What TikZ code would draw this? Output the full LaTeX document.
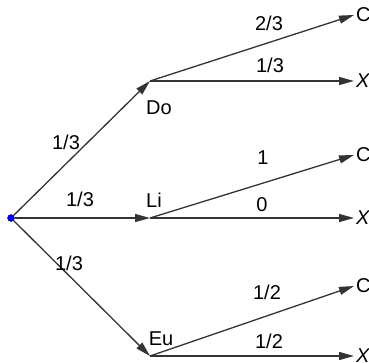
\documentclass[tikz,border=0pt]{standalone}
\usepackage{fontspec}
\setmainfont{Liberation Sans}
\usepackage{xcolor}
\usetikzlibrary{positioning, arrows.meta}
\definecolor{linegray}{RGB}{51,51,51}
\definecolor{dotblue}{RGB}{0,0,230}

\begin{document}
\begin{tikzpicture}[
    x=1pt, y=-1pt,
    every node/.style={font=\fontsize{20}{24}\selectfont},
    problabel/.style={
        inner sep=0pt,
        anchor=center
    },
    statelabel/.style={
        inner sep=0pt,
        anchor=center
    },
    leaflabel/.style={
        inner sep=2pt,
        anchor=west
    },
    rootdot/.style={
        circle,
        draw=blue!50!black,
        fill=dotblue,
        inner sep=0pt,
        minimum size=7pt
    },
    arrow/.style={-{Triangle[length=15pt, width=8pt]}, line width=1.3pt, draw=linegray}
]

\useasboundingbox (0,0) rectangle (369,362);

% branch points
\node[rootdot] (root) at (11,218) {};
\coordinate (do) at (150,81);
\coordinate (li) at (150,218);
\coordinate (eu) at (150,356);

% leaves
\coordinate (doC) at (354,15);
\coordinate (doX) at (354,81);
\coordinate (liC) at (354,155);
\coordinate (liX) at (354,218);
\coordinate (euC) at (354,286);
\coordinate (euX) at (354,356);

\node[leaflabel] (doCtext) at (doC) {C};
\node[leaflabel] (doXtext) at (doX) {\textit{X}};
\node[leaflabel] (liCtext) at (liC) {C};
\node[leaflabel] (liXtext) at (liX) {\textit{X}};
\node[leaflabel] (euCtext) at (euC) {C};
\node[leaflabel] (euXtext) at (euX) {\textit{X}};

\node[statelabel] (dotext) at (159,108) {Do};
\node[statelabel] (litext) at (154,200) {Li};
\node[statelabel] (eutext) at (161,339) {Eu};

\draw[arrow] (root) -- (do);
\draw[arrow] (root) -- (li);
\draw[arrow] (root) -- (eu);

\draw[arrow] (do) -- (doC);
\draw[arrow] (do) -- (doX);
\draw[arrow] (li) -- (liC);
\draw[arrow] (li) -- (liX);
\draw[arrow] (eu) -- (euC);
\draw[arrow] (eu) -- (euX);

% probabilities
\node[problabel] (pdo) at (66,142) {1/3};
\node[problabel] (pli) at (80,199) {1/3};
\node[problabel] (peu) at (69,263) {1/3};
\node[problabel] (pdoC) at (269,23) {2/3};
\node[problabel] (pdoX) at (270,65) {1/3};
\node[problabel] (pliC) at (263,158) {1};
\node[problabel] (pliX) at (262,205) {0};
\node[problabel] (peuC) at (267,292) {1/2};
\node[problabel] (peuX) at (269,341) {1/2};

\end{tikzpicture}
\end{document}
